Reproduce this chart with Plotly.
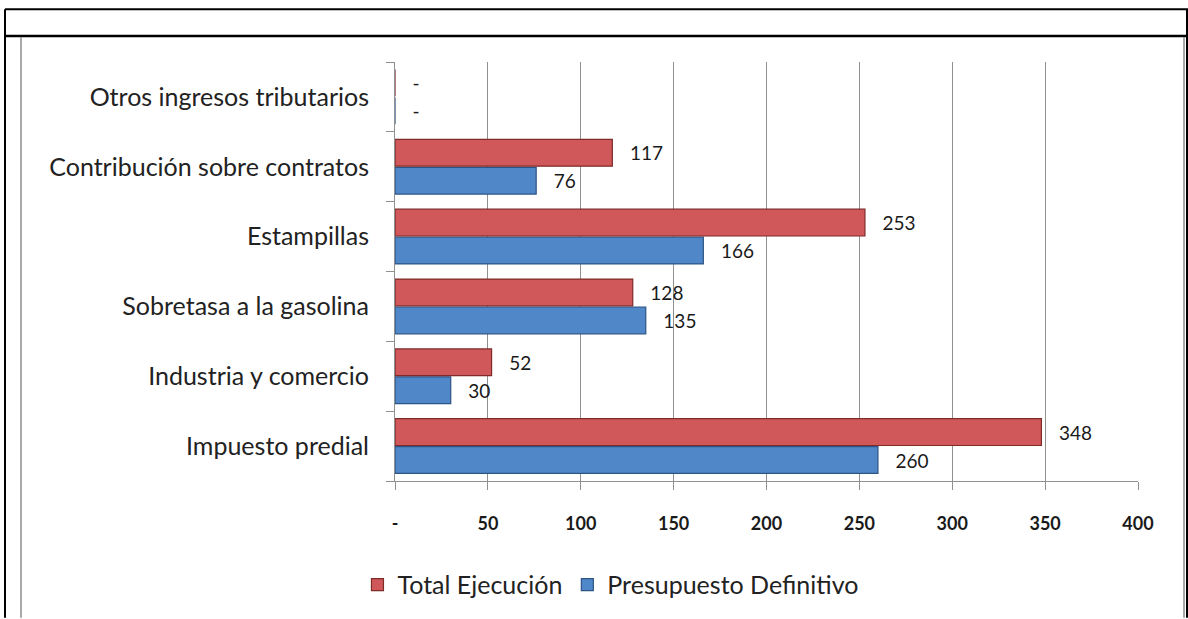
import plotly.graph_objects as go

categories = ["Impuesto predial", "Industria y comercio", "Sobretasa a la gasolina",
              "Estampillas", "Contribución sobre contratos", "Otros ingresos tributarios"]
presupuesto = [260, 30, 135, 166, 76, 0]
ejecucion = [348, 52, 128, 253, 117, 0]
x_ticks = [0, 50, 100, 150, 200, 250, 300, 350, 400]
x_ticktext = ["-", "50", "100", "150", "200", "250", "300", "350", "400"]

pad = "\u00a0\u00a0\u00a0"
def lab(vals):
    return [pad + ("-" if v == 0 else str(v)) for v in vals]

W, H = 1188, 619
L, R, T, B = 395, 1138, 62, 482

def px(x):
    return (x - L) / (R - L)

def py(y):
    return (B - y) / (B - T)

label_font = dict(family="Lato", size=19, color="#1a1a1a")

fig = go.Figure()
fig.add_trace(go.Bar(
    y=categories, x=presupuesto, orientation="h", name="Presupuesto Definitivo",
    marker=dict(color="#5087C8", line=dict(color="#2C5485", width=1.2)),
    text=lab(presupuesto), textposition="outside", cliponaxis=False,
    textfont=label_font,
))
fig.add_trace(go.Bar(
    y=categories, x=ejecucion, orientation="h", name="Total Ejecución",
    marker=dict(color="#D0585A", line=dict(color="#7E2B29", width=1.2)),
    text=lab(ejecucion), textposition="outside", cliponaxis=False,
    textfont=label_font,
))

shapes = [
    dict(type="line", xref="paper", yref="paper", x0=px(5), x1=px(1188), y0=py(9), y1=py(9),
         line=dict(color="black", width=2)),
    dict(type="line", xref="paper", yref="paper", x0=px(5), x1=px(5), y0=py(9), y1=py(619),
         line=dict(color="black", width=2)),
    dict(type="line", xref="paper", yref="paper", x0=px(1187), x1=px(1187), y0=py(9), y1=py(619),
         line=dict(color="black", width=2)),
    dict(type="line", xref="paper", yref="paper", x0=px(5), x1=px(1188), y0=py(36), y1=py(36),
         line=dict(color="black", width=2.5)),
    dict(type="line", xref="paper", yref="paper", x0=px(21), x1=px(21), y0=py(37), y1=py(619),
         line=dict(color="#8c8c8c", width=1.5)),
    dict(type="line", xref="paper", yref="paper", x0=px(1184), x1=px(1184), y0=py(37), y1=py(619),
         line=dict(color="#8c8c8c", width=1.5)),
]

fig.update_layout(
    width=W, height=H,
    margin=dict(l=L, r=W - R, t=T, b=H - B),
    paper_bgcolor="white", plot_bgcolor="white",
    barmode="group", bargap=0.2, bargroupgap=0.04,
    showlegend=True,
    legend=dict(orientation="h", traceorder="reversed", x=0.29, y=-0.245,
                xanchor="center", yanchor="middle",
                font=dict(family="Lato", size=25, color="#222"),
                itemwidth=30),
    shapes=shapes,
    xaxis=dict(range=[0, 400], tickvals=x_ticks, ticktext=x_ticktext,
               showgrid=True, gridcolor="#909090", gridwidth=1,
               showline=True, linecolor="#909090", linewidth=1,
               ticks="outside", ticklen=8, tickcolor="#909090",
               ticklabelstandoff=18, zeroline=False,
               tickfont=dict(family="Lato", size=18, color="#1a1a1a", weight="bold")),
    yaxis=dict(type="category", categoryorder="array", categoryarray=categories,
               showline=True, linecolor="#909090", linewidth=1,
               ticks="outside", ticklen=8, tickcolor="#909090", tickson="boundaries",
               ticklabelstandoff=20, showgrid=False,
               tickfont=dict(family="Lato", size=25, color="#222")),
)

fig.write_html("out.html", config={"displayModeBar": False},
               post_script="document.body.style.margin='0px';")
